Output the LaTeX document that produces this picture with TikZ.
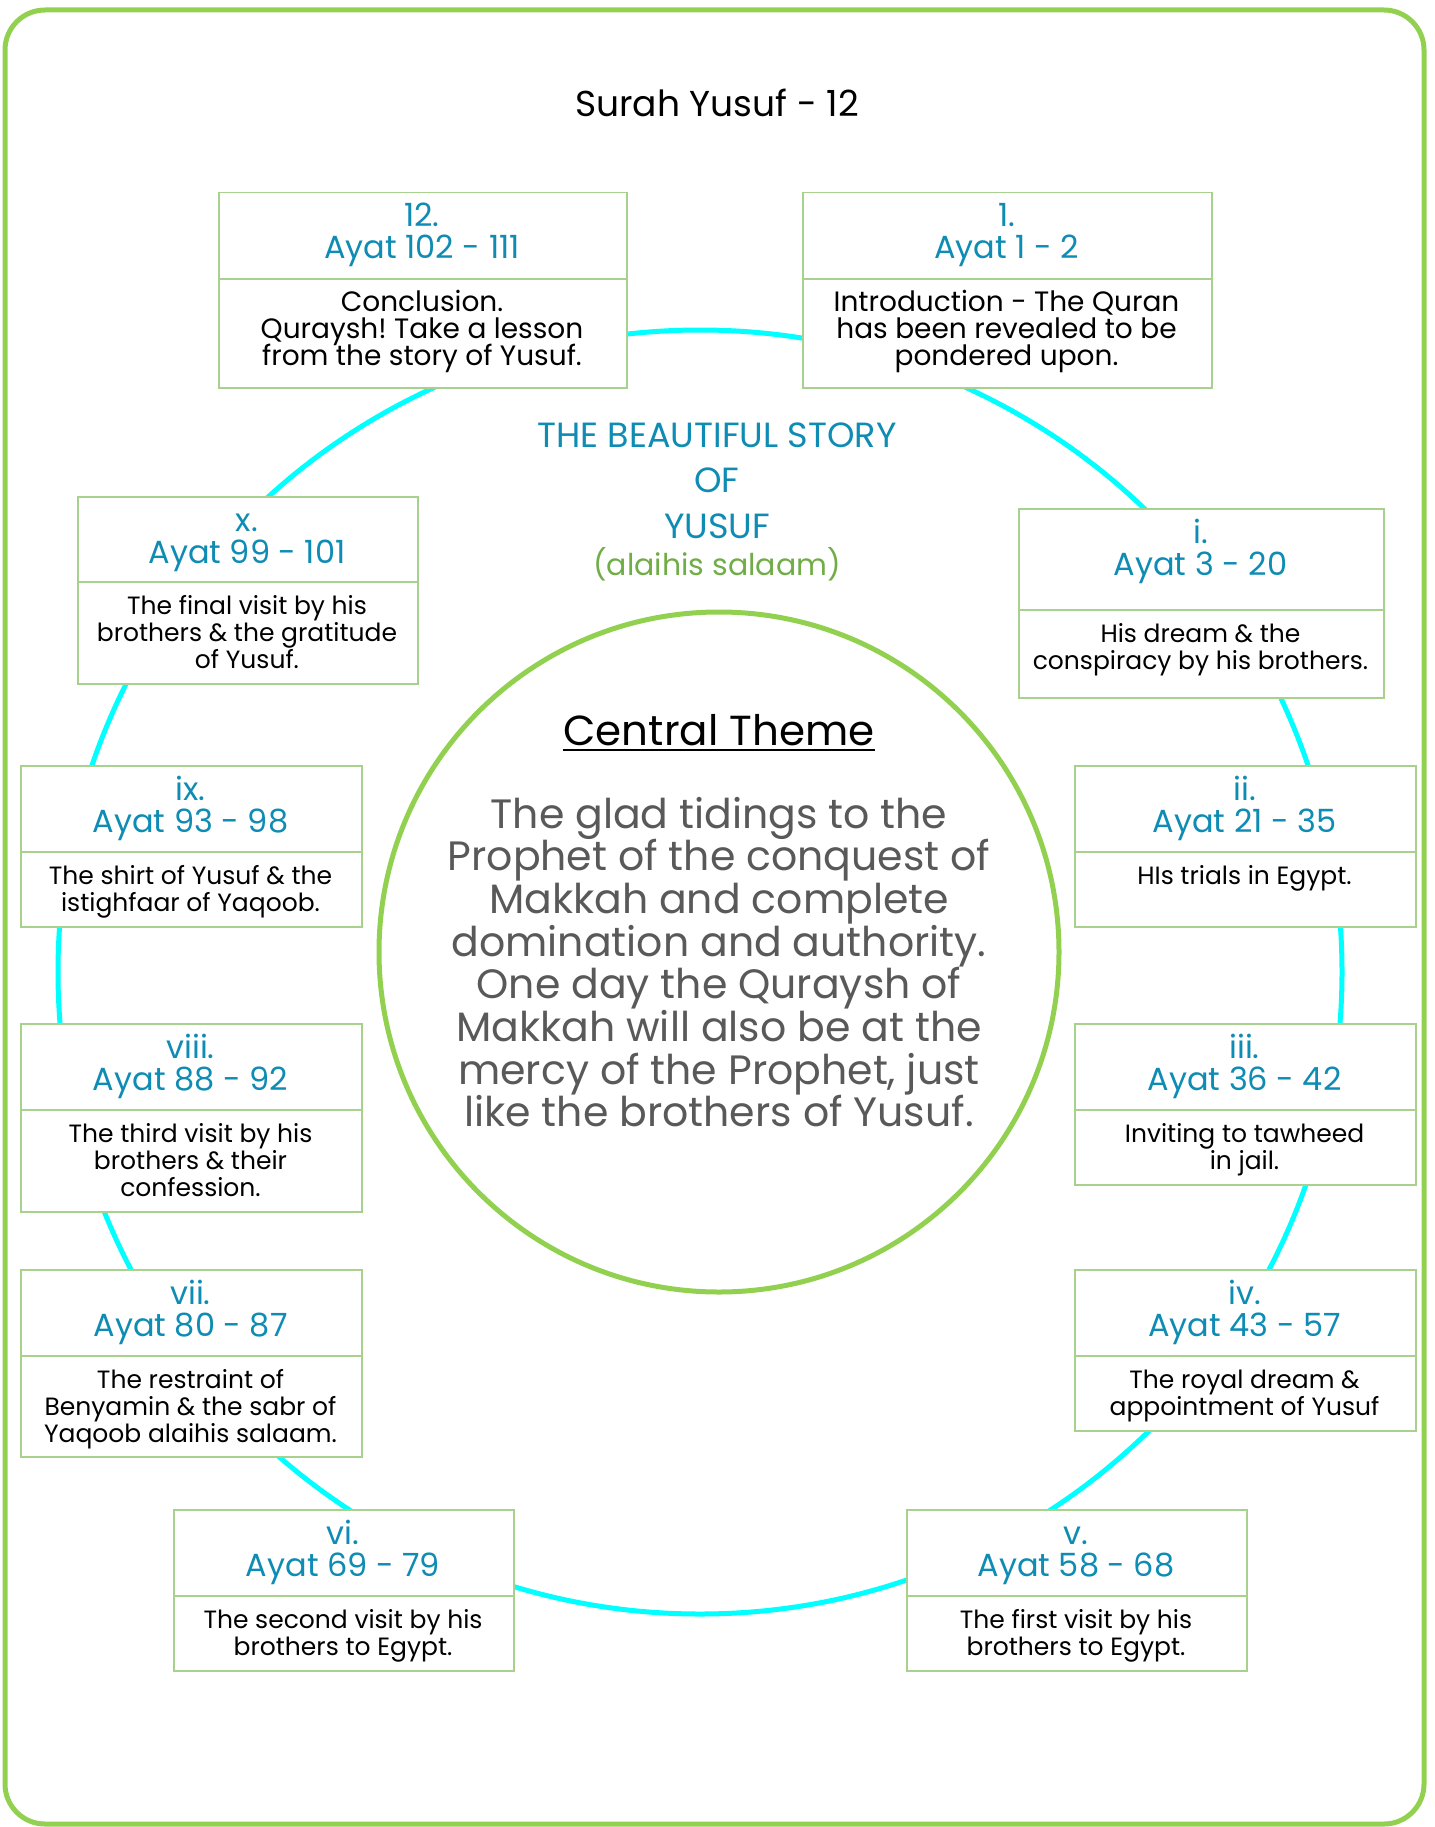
\documentclass[tikz,border=0pt]{standalone}
\usepackage{fontspec}
\setmainfont{Poppins}
\frenchspacing
\definecolor{framegreen}{HTML}{92D050}
\definecolor{boxgreen}{HTML}{A9D18E}
\definecolor{headteal}{HTML}{0F8CB4}
\definecolor{salaamgreen}{HTML}{70AD47}
\definecolor{themegray}{HTML}{595959}
\definecolor{ringcyan}{HTML}{00FFFF}
\newcommand{\stk}[2]{\vtop{\baselineskip=#1\lineskiplimit=-100pt\lineskip=0pt\tabskip=0pt\halign{\hfil##\hfil\cr#2\crcr}}}
\tikzset{
  partbox/.style={draw=boxgreen, line width=1.5pt, fill=white, rectangle, inner sep=0pt, anchor=north west},
  hdrtext/.style={text=headteal, inner sep=0pt, anchor=base, font=\fontsize{32}{32}\selectfont},
  bodytext/.style={text=black, inner sep=0pt, anchor=base, font=\fontsize{25}{27}\selectfont},
  bigbody/.style={text=black, inner sep=0pt, anchor=base, font=\fontsize{28}{29}\selectfont},
}
% name, x1, y1, x2, y2, ydiv, header, body, body style
\newcommand{\ybox}[9]{%
  \node[partbox, minimum width={#4-#2}, minimum height={#6-#3}] (#1h) at (#2,#3) {};
  \node[partbox, minimum width={#4-#2}, minimum height={#5-#6}] (#1b) at (#2,#6) {};
  \node[hdrtext] (#1ht) at ({(#2+#4)/2},#3+35) {\stk{32pt}{#7}};
  \node[#9] (#1bt) at ({(#2+#4)/2},#6+33) {\stk{27pt}{#8}};
}
\begin{document}
\begin{tikzpicture}[x=1pt,y=-1pt]
\useasboundingbox (0,0) rectangle (1434,1827);
\draw[framegreen, line width=5pt, rounded corners=40pt] (5,10) rectangle (1424,1824);
\node[inner sep=0pt, anchor=base, font=\fontsize{36}{40}\selectfont] (title) at (717,117) {Surah Yusuf - 12};
\node[circle, draw=ringcyan, line width=5pt, minimum size=1284pt, inner sep=0pt] (ring) at (700,972) {};
\node[circle, draw=framegreen, line width=5pt, fill=white, minimum size=680pt, inner sep=0pt] (core) at (719,952) {};
\node[inner sep=0pt, anchor=base, text=headteal, font=\fontsize{35}{46}\selectfont] (story) at (717,447) {\stk{45.5pt}{THE BEAUTIFUL STORY\cr OF\cr YUSUF}};
\node[inner sep=0pt, anchor=base, text=salaamgreen, font=\fontsize{30}{33}\selectfont] (salaam) at (717,575) {(alaihis salaam)};
\node[inner sep=0pt, anchor=base, font=\fontsize{42}{45}\selectfont] (ct) at (719,745) {Central Theme};
\draw[line width=2pt] ([yshift=-5pt]ct.base west) -- ([yshift=-5pt]ct.base east);
\node[inner sep=0pt, anchor=base, text=themegray, font=\fontsize{41}{43}\selectfont] (theme) at (719,828) {\stk{42.7pt}{The glad tidings to the\cr Prophet of the conquest of\cr Makkah and complete\cr domination and authority.\cr One day the Quraysh of\cr Makkah will also be at the\cr mercy of the Prophet, just\cr like the brothers of Yusuf.}};
\ybox{b12}{218}{192}{626}{387}{278}{12.\cr Ayat 102 - 111}{Conclusion.\cr Quraysh! Take a lesson\cr from the story of Yusuf.}{bigbody}
\ybox{b1}{802}{192}{1211}{387}{278}{1.\cr Ayat 1 - 2}{Introduction - The Quran\cr has been revealed to be\cr pondered upon.}{bigbody}
\ybox{bx}{77}{496}{417}{683}{581}{x.\cr Ayat 99 - 101}{The final visit by his\cr brothers \& the gratitude\cr of Yusuf.}{bodytext}
\ybox{bi}{1018}{508}{1383}{697}{609}{i.\cr Ayat 3 - 20}{His dream \& the\cr conspiracy by his brothers.}{bodytext}
\ybox{bix}{20}{765}{361}{926}{851}{ix.\cr Ayat 93 - 98}{The shirt of Yusuf \& the\cr istighfaar of Yaqoob.}{bodytext}
\ybox{bii}{1074}{765}{1415}{926}{851}{ii.\cr Ayat 21 - 35}{HIs trials in Egypt.}{bodytext}
\ybox{bviii}{20}{1023}{361}{1211}{1109}{viii.\cr Ayat 88 - 92}{The third visit by his\cr brothers \& their\cr confession.}{bodytext}
\ybox{biii}{1074}{1023}{1415}{1184}{1109}{iii.\cr Ayat 36 - 42}{Inviting to tawheed\cr in jail.}{bodytext}
\ybox{bvii}{20}{1269}{361}{1456}{1355}{vii.\cr Ayat 80 - 87}{The restraint of\cr Benyamin \& the sabr of\cr Yaqoob alaihis salaam.}{bodytext}
\ybox{biv}{1074}{1269}{1415}{1430}{1355}{iv.\cr Ayat 43 - 57}{The royal dream \&\cr appointment of Yusuf}{bodytext}
\ybox{bvi}{173}{1509}{513}{1670}{1595}{vi.\cr Ayat 69 - 79}{The second visit by his\cr brothers to Egypt.}{bodytext}
\ybox{bv}{906}{1509}{1246}{1670}{1595}{v.\cr Ayat 58 - 68}{The first visit by his\cr brothers to Egypt.}{bodytext}
\end{tikzpicture}
\end{document}
